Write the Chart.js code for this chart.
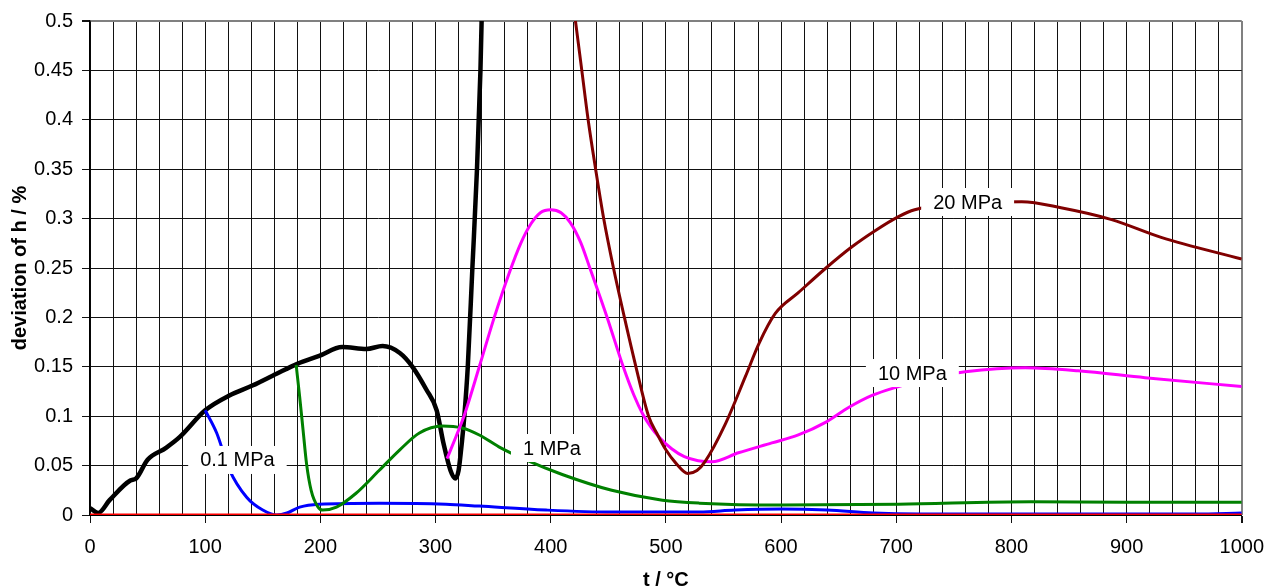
<!DOCTYPE html>
<html>
<head>
<meta charset="utf-8">
<script src="https://cdn.jsdelivr.net/npm/chart.js@4/dist/chart.umd.min.js"></script>
<style>
  html, body { margin: 0; padding: 0; background: #fff; }
  #wrap { width: 1276px; height: 588px; }
</style>
</head>
<body>
<div id="wrap"><canvas id="chart" width="1276" height="588"></canvas></div>
<script>
// temperatures (°C) and deviation of h (%)
const tBlack = [0, 7, 17, 35, 40, 50, 66, 78, 100, 121, 141, 162, 180, 199, 219, 240, 254, 269, 280, 292, 301, 307, 313, 317, 320, 323, 325, 328, 332, 336, 339, 342];
const hBlack = [0.007, 0.002, 0.015, 0.035, 0.037, 0.056, 0.068, 0.079, 0.106, 0.121, 0.131, 0.143, 0.153, 0.161, 0.170, 0.168, 0.171, 0.164, 0.150, 0.127, 0.106, 0.072, 0.045, 0.037, 0.045, 0.075, 0.1, 0.15, 0.25, 0.35, 0.45, 0.6];

const tBlue = [100, 110, 121, 136, 150, 162, 171, 182, 199, 251, 309, 338, 396, 453, 529, 560, 600, 640, 680, 720, 800, 900, 960, 1000];
const hBlue = [0.106, 0.083, 0.046, 0.018, 0.005, 0.0, 0.002, 0.008, 0.011, 0.012, 0.011, 0.009, 0.005, 0.003, 0.003, 0.005, 0.006, 0.005, 0.002, 0.001, 0.001, 0.001, 0.001, 0.002];

const tGreen = [179, 182, 185, 188, 192, 198, 202, 214, 231, 251, 269, 286, 306, 323, 338, 355, 378, 410, 453, 497, 529, 600, 702, 817, 900, 1000];
const hGreen = [0.152, 0.12, 0.086, 0.052, 0.025, 0.008, 0.005, 0.008, 0.022, 0.045, 0.066, 0.083, 0.090, 0.088, 0.081, 0.069, 0.056, 0.041, 0.025, 0.015, 0.012, 0.010, 0.011, 0.0135, 0.013, 0.013];

const tMagenta = [310, 318, 325, 338, 351, 364, 374, 383, 391, 400, 409, 417, 426, 434, 449, 463, 472, 480, 487, 494, 505, 516, 528, 540, 563, 592, 615, 639, 659, 679, 702, 730, 760, 812, 858, 916, 1000];
const hMagenta = [0.057, 0.080, 0.101, 0.150, 0.200, 0.245, 0.275, 0.295, 0.306, 0.309, 0.306, 0.296, 0.276, 0.250, 0.200, 0.150, 0.122, 0.102, 0.089, 0.079, 0.067, 0.059, 0.055, 0.054, 0.063, 0.073, 0.081, 0.094, 0.109, 0.121, 0.130, 0.139, 0.145, 0.149, 0.146, 0.139, 0.130];

const tDarkRed = [414, 421.5, 427, 432.5, 439, 446, 454.5, 464, 474, 485, 492, 500, 509, 519, 527, 534, 552, 569, 581, 595, 615, 639, 661, 682, 702, 716, 760, 809, 843, 887, 930, 1000];
const hDarkRed = [0.567, 0.50, 0.45, 0.40, 0.35, 0.30, 0.25, 0.20, 0.15, 0.10, 0.083, 0.066, 0.052, 0.042, 0.045, 0.054, 0.093, 0.140, 0.174, 0.204, 0.225, 0.250, 0.271, 0.288, 0.302, 0.309, 0.316, 0.317, 0.311, 0.299, 0.281, 0.259];

const tRed = [0, 1000];
const hRed = [0, 0];

// curve labels
const labelText = ['0.1 MPa', '1 MPa', '10 MPa', '20 MPa'];
const labelT = [128, 401, 714, 762];
const labelH = [0.0557, 0.0678, 0.1437, 0.3168];

const FONT = '"Liberation Sans", Arial, sans-serif';

function pts(t, h) {
  return t.map((v, i) => ({ x: v, y: h[i] }));
}

function line(t, h, color, width, order) {
  return {
    data: pts(t, h),
    borderColor: color,
    backgroundColor: color,
    borderWidth: width,
    pointRadius: 0,
    cubicInterpolationMode: 'monotone',
    fill: false,
    clip: 0,
    order: order
  };
}

const seriesLabels = {
  id: 'seriesLabels',
  afterDatasetsDraw(chart) {
    const { ctx, scales: { x, y } } = chart;
    ctx.save();
    ctx.font = '20px ' + FONT;
    ctx.textAlign = 'center';
    ctx.textBaseline = 'middle';
    labelText.forEach((txt, i) => {
      const px = x.getPixelForValue(labelT[i]);
      const py = y.getPixelForValue(labelH[i]);
      const w = ctx.measureText(txt).width + 24;
      ctx.fillStyle = '#fff';
      ctx.fillRect(px - w / 2, py - 14, w, 28);
      ctx.fillStyle = '#000';
      ctx.fillText(txt, px, py + 1);
    });
    ctx.restore();
  }
};

const isTop = v => Math.abs(v - 0.5) < 1e-9;

new Chart(document.getElementById('chart'), {
  type: 'line',
  data: {
    datasets: [
      line(tRed, hRed, '#ff0000', 3, 0),
      line(tDarkRed, hDarkRed, '#800000', 3, 1),
      line(tMagenta, hMagenta, '#ff00ff', 3, 2),
      line(tGreen, hGreen, '#008000', 3, 3),
      line(tBlue, hBlue, '#0000ff', 3, 4),
      line(tBlack, hBlack, '#000000', 4.5, 5)
    ]
  },
  options: {
    responsive: false,
    animation: false,
    layout: { padding: { top: 21, right: 32, left: 0, bottom: 0 } },
    plugins: {
      legend: { display: false },
      tooltip: { enabled: false }
    },
    scales: {
      x: {
        type: 'linear',
        min: 0,
        max: 1000,
        afterFit: s => { s.height = 73; },
        ticks: {
          stepSize: 20,
          autoSkip: false,
          maxRotation: 0,
          padding: 12,
          color: '#000',
          font: { family: FONT, size: 20 },
          callback: v => (v % 100 === 0 ? v : '')
        },
        grid: {
          color: c => (c.tick && c.tick.value === 1000 ? '#808080' : '#111'),
          lineWidth: c => (c.tick && c.tick.value === 1000 ? 2 : 1),
          tickLength: 8,
          tickColor: c => (c.tick && c.tick.value % 100 === 0 ? '#111' : 'rgba(0,0,0,0)')
        },
        border: { color: '#000', width: 1 },
        title: {
          display: true,
          text: 't / °C',
          color: '#000',
          font: { family: FONT, size: 20, weight: 'bold', lineHeight: 0.8 },
          padding: { top: 0, bottom: 0 }
        }
      },
      y: {
        min: 0,
        max: 0.5,
        afterFit: s => { s.width = 90; },
        ticks: {
          stepSize: 0.05,
          padding: 9,
          color: '#000',
          font: { family: FONT, size: 20 },
          callback: v => String(Number(v.toFixed(2)))
        },
        grid: {
          color: c => (c.tick && isTop(c.tick.value) ? '#808080' : '#111'),
          lineWidth: c => (c.tick && isTop(c.tick.value) ? 2 : 1),
          tickLength: 8,
          tickColor: '#111'
        },
        border: { color: '#000', width: 1.5 },
        title: {
          display: true,
          text: 'deviation of h / %',
          color: '#000',
          font: { family: FONT, size: 20, weight: 'bold' },
          padding: { top: 8, bottom: 0 }
        }
      }
    }
  },
  plugins: [seriesLabels]
});
</script>
</body>
</html>
